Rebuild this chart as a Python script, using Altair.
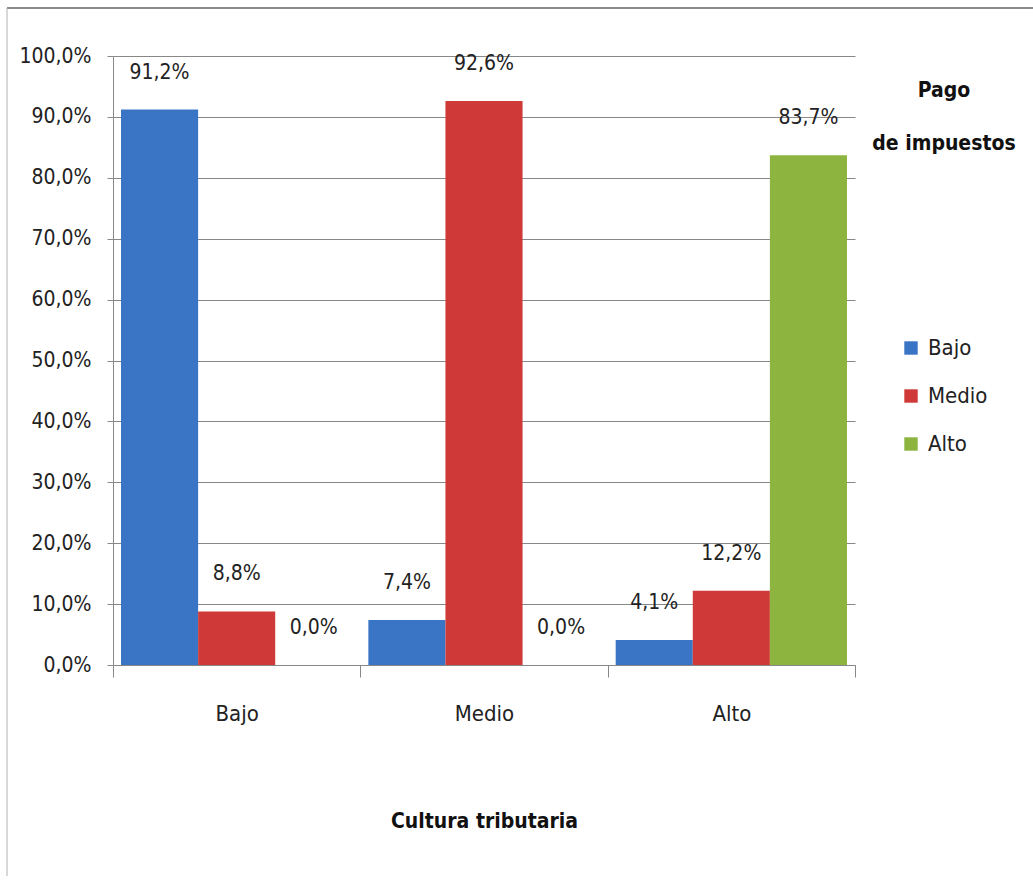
import altair as alt
import pandas as pd

# Data
categorias = ["Bajo", "Medio", "Alto"]          # Cultura tributaria (x)
series = ["Bajo", "Medio", "Alto"]              # Pago de impuestos (legend)
valores_bajo = [91.2, 7.4, 4.1]
valores_medio = [8.8, 92.6, 12.2]
valores_alto = [0.0, 0.0, 83.7]
colores = ["#3A74C4", "#CF3A38", "#8CB43E"]
y_ticks = [0, 10, 20, 30, 40, 50, 60, 70, 80, 90, 100]

rows = []
for s, vals in zip(series, [valores_bajo, valores_medio, valores_alto]):
    for c, v in zip(categorias, vals):
        rows.append({"cultura": c, "pago": s, "valor": v / 100.0})
df = pd.DataFrame(rows)

FONT = "DejaVu Sans Condensed, DejaVu Sans, sans-serif"

base = alt.Chart(df).encode(
    x=alt.X(
        "cultura:N",
        sort=categorias,
        scale=alt.Scale(paddingInner=0, paddingOuter=0),
        axis=alt.Axis(
            title="Cultura tributaria",
            labelAngle=0,
            tickBand="extent",
            tickSize=12,
            tickColor="#888888",
            domainColor="#888888",
            labelFont=FONT,
            labelFontSize=22,
            labelColor="#222222",
            labelPadding=26,
            titleFont=FONT,
            titleFontSize=21,
            titleFontWeight="bold",
            titleColor="#111111",
            titlePadding=86,
        ),
    ),
    xOffset=alt.XOffset(
        "pago:N", sort=series, scale=alt.Scale(paddingInner=0, paddingOuter=0.104)
    ),
    y=alt.Y(
        "valor:Q",
        scale=alt.Scale(domain=[0, 1], nice=False),
        axis=alt.Axis(
            title=None,
            values=[t / 100.0 for t in y_ticks],
            labelExpr="replace(format(datum.value, '.1%'), '.', ',')",
            grid=True,
            gridColor="#888888",
            gridWidth=1,
            tickSize=6,
            tickColor="#888888",
            domainColor="#888888",
            labelFont=FONT,
            labelFontSize=21,
            labelColor="#222222",
            labelPadding=16,
        ),
    ),
)

bars = base.mark_bar().encode(
    color=alt.Color(
        "pago:N",
        sort=series,
        scale=alt.Scale(domain=series, range=colores),
        legend=alt.Legend(
            title=["Pago", "de impuestos"],
            orient="none",
            legendX=759,
            legendY=24,
            titleFont=FONT,
            titleFontSize=21,
            titleFontWeight="bold",
            titleColor="#111111",
            titleAnchor="middle",
            titleAlign="center",
            titleLineHeight=53,
            titlePadding=183,
            labelFont=FONT,
            labelFontSize=22,
            labelColor="#222222",
            symbolType="square",
            symbolSize=180,
            symbolStrokeWidth=0,
            labelOffset=6,
            rowPadding=26,
        ),
    )
)

text = base.mark_text(
    font=FONT, fontSize=21, color="#222222", baseline="middle", dy=-37
).transform_calculate(
    etiqueta="replace(format(datum.valor, '.1%'), '.', ',')"
).encode(text="etiqueta:N")

frame_df = pd.DataFrame({"k": [0]})
top_line = alt.Chart(frame_df).mark_rule(color="#8a8a8a", strokeWidth=2).encode(
    x=alt.value(-106), x2=alt.value(920), y=alt.value(-48)
)
left_line = alt.Chart(frame_df).mark_rule(color="#b0b0b0", strokeWidth=1).encode(
    x=alt.value(-106), y=alt.value(-48), y2=alt.value(820)
)

chart = (
    alt.layer(bars, text, top_line, left_line)
    .properties(
        width=742,
        height=609,
        autosize=alt.AutoSizeParams(type="none"),
        padding={"left": 113, "top": 56, "right": 178, "bottom": 216},
        background="white",
    )
    .configure_view(stroke=None)
)

chart.save("out.html", embed_options={"renderer": "svg", "actions": False})
